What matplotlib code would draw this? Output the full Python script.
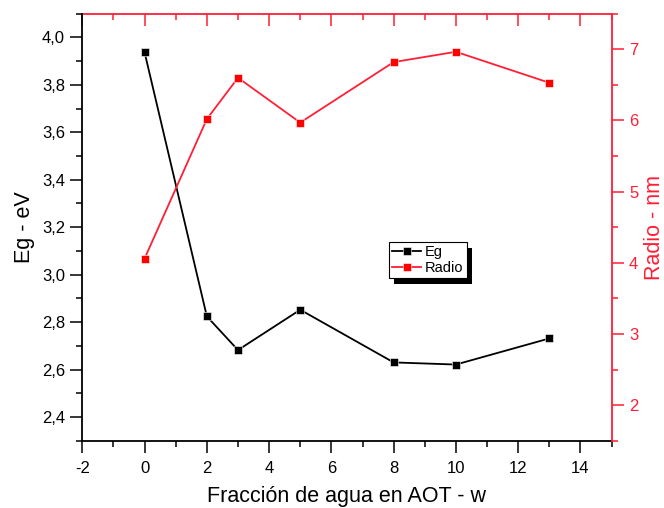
import matplotlib
matplotlib.use("Agg")
import matplotlib.pyplot as plt
from matplotlib.ticker import MultipleLocator, FuncFormatter
from matplotlib.patches import Rectangle

plt.rcParams['font.family'] = ['Liberation Sans', 'DejaVu Sans']
plt.rcParams['axes.unicode_minus'] = False

# Water fraction w and the two measured series
w = [0, 2, 3, 5, 8, 10, 13]
eg = [3.937, 2.824, 2.682, 2.852, 2.630, 2.621, 2.731]
radio = [4.06, 6.02, 6.60, 5.97, 6.82, 6.965, 6.53]

RED = '#ff1f35'
MRED = '#ff0000'

fig = plt.figure(figsize=(6.64, 5.08), dpi=100)
ax = fig.add_axes([0.124, 0.1325, 0.797, 0.8405])
ax2 = ax.twinx()

comma = FuncFormatter(lambda v, p: f"{v:.1f}".replace('.', ','))

# Left axis: band gap
l1, = ax.plot(w, eg, color='black', lw=1.3, marker='s', ms=6, mfc='black',
              mec='white', mew=0.4, label='Eg', zorder=3)
ax.set_xlim(-2, 15)
ax.set_ylim(2.3, 4.1)
ax.xaxis.set_major_locator(MultipleLocator(2))
ax.xaxis.set_minor_locator(MultipleLocator(1))
ax.yaxis.set_major_locator(MultipleLocator(0.2))
ax.yaxis.set_minor_locator(MultipleLocator(0.1))
ax.yaxis.set_major_formatter(comma)
ax.tick_params(which='both', direction='out', top=False, right=False,
               labelsize=12, width=1.1, color='black')
ax.tick_params(which='major', length=8.5, pad=4)
ax.tick_params(which='minor', length=4.5)
ax.tick_params(axis='x', which='major', pad=6)
ax.set_yticks([2.4, 2.6, 2.8, 3.0, 3.2, 3.4, 3.6, 3.8, 4.0])
for s in ('left', 'bottom'):
    ax.spines[s].set_linewidth(1.3)
ax.spines['top'].set_visible(False)
ax.spines['right'].set_visible(False)
ax.set_xlabel('Fracción de agua en AOT - w', fontsize=15.5, labelpad=7)
ax.set_ylabel('Eg - eV', fontsize=15.5, labelpad=5)

# Right axis: radius
l2, = ax2.plot(w, radio, color=RED, lw=1.3, marker='s', ms=6, mfc=MRED,
               mec='white', mew=0.4, label='Radio', zorder=3)
ax2.set_ylim(1.5, 7.5)
ax2.yaxis.set_major_locator(MultipleLocator(1))
ax2.yaxis.set_minor_locator(MultipleLocator(0.5))
ax2.tick_params(which='both', direction='out', colors=RED, labelsize=12, width=1.1)
ax2.tick_params(which='major', length=8.5, pad=4)
ax2.tick_params(which='minor', length=4.5)
ax2.spines['right'].set_color(RED)
ax2.spines['right'].set_linewidth(1.3)
ax2.spines['top'].set_visible(False)
ax2.spines['left'].set_visible(False)
ax2.spines['bottom'].set_visible(False)
ax2.set_ylabel('Radio - nm', fontsize=15.5, color=RED, labelpad=4)

# Top axis mirrors x with inward red ticks
top = ax.secondary_xaxis('top')
top.xaxis.set_major_locator(MultipleLocator(2))
top.xaxis.set_minor_locator(MultipleLocator(1))
top.tick_params(which='both', direction='in', colors=RED, labeltop=False, width=1.1)
top.tick_params(which='major', length=8.5)
top.tick_params(which='minor', length=4.5)
top.spines['top'].set_color(RED)
top.spines['top'].set_linewidth(1.3)

leg = ax2.legend([l1, l2], ['Eg', 'Radio'], loc='upper left',
                 bbox_to_anchor=(0.586, 0.524), bbox_transform=fig.transFigure,
                 borderaxespad=0, fancybox=False, framealpha=1, edgecolor='black',
                 fontsize=10.5, handlelength=2.0, handletextpad=0.25,
                 labelspacing=0.12, borderpad=0.22, markerscale=0.9)
leg.get_frame().set_linewidth(0.8)
leg.set_zorder(10)

# Solid drop shadow behind the legend box
fig.canvas.draw()
bb = leg.get_window_extent()
shadow = Rectangle((bb.x0 + 5, bb.y0 - 6), bb.width, bb.height,
                   transform=None, facecolor='black', edgecolor='none', zorder=9)
ax2.add_artist(shadow)

fig.savefig('out.png', dpi=100)
